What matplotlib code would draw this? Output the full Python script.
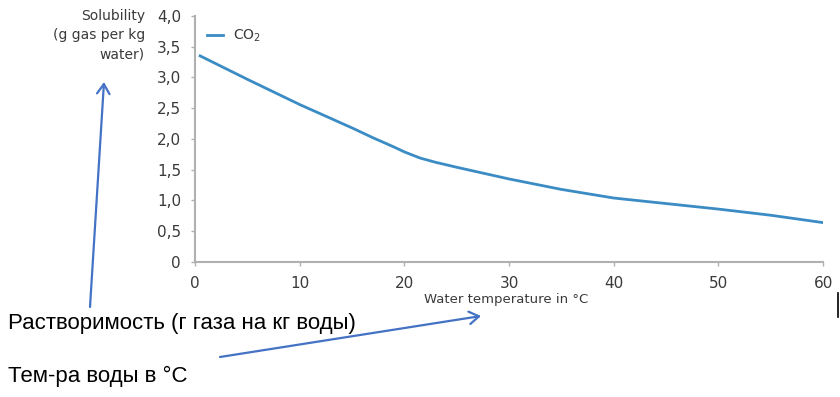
import numpy as np
import matplotlib
matplotlib.use('Agg')
import matplotlib.pyplot as plt
from matplotlib.lines import Line2D
from matplotlib.patches import FancyArrowPatch

# datos
temperatura = [0.5, 5, 10, 15, 17, 19, 20, 21.5, 23, 25, 30, 35, 40, 45, 50, 55, 60]
solubilidad = [3.35, 2.97, 2.56, 2.18, 2.02, 1.87, 1.79, 1.69, 1.62, 1.54, 1.35, 1.18, 1.04, 0.95, 0.86, 0.76, 0.64]

xticks = [0, 10, 20, 30, 40, 50, 60]
yticks = [0, 0.5, 1.0, 1.5, 2.0, 2.5, 3.0, 3.5, 4.0]
ytick_labels = ['0', '0,5', '1,0', '1,5', '2,0', '2,5', '3,0', '3,5', '4,0']

serie = 'CO$_2$'
etiqueta_y = 'Solubility\n(g gas per kg\nwater)'
etiqueta_x = 'Water temperature in °C'
nota_y = 'Растворимость (г газа на кг воды)'
nota_x = 'Тем-ра воды в °C'

fuente = ['DejaVu Sans']
gris = '#3a3a3a'
azul = '#4472C4'

fig = plt.figure(figsize=(8.4, 3.97), dpi=100)
ax = fig.add_axes([0.232, 0.340, 0.748, 0.620])

ax.plot(temperatura, solubilidad, color='#3b8cc4', lw=2, label=serie)

ax.set_xlim(0, 60)
ax.set_ylim(0, 4.0)
ax.set_xticks(xticks)
ax.set_xticklabels([str(t) for t in xticks], family=fuente, fontsize=11, color=gris)
ax.set_yticks(yticks)
ax.set_yticklabels(ytick_labels, family=fuente, fontsize=11, color=gris)
ax.tick_params(axis='both', direction='out', length=3, width=1, color='#b0b0b0', pad=7)

for lado in ['top', 'right']:
    ax.spines[lado].set_visible(False)
for lado in ['left', 'bottom']:
    ax.spines[lado].set_color('#b0b0b0')
    ax.spines[lado].set_linewidth(1.5)

leg = ax.legend(loc='upper left', frameon=False, handlelength=1.2, handletextpad=0.7,
                borderaxespad=0.45, prop={'family': fuente, 'size': 10})
for t in leg.get_texts():
    t.set_color(gris)

fig.text(145 / 840, 1 - 9 / 397, etiqueta_y, ha='right', va='top', family=fuente,
         fontsize=10, color=gris, linespacing=1.5)
fig.text(506 / 840, 1 - 300 / 397, etiqueta_x, ha='center', va='center', family=fuente,
         fontsize=9.5, color=gris)

# notas en ruso
fig.text(8 / 840, 1 - 324 / 397, nota_y, ha='left', va='center',
         family=['Liberation Sans', 'DejaVu Sans'], fontsize=16, color='black')
fig.text(8 / 840, 1 - 376 / 397, nota_x, ha='left', va='center',
         family=['Liberation Sans', 'DejaVu Sans'], fontsize=16, color='black')

# flechas
def px(x, y):
    return (x / 840, 1 - y / 397)

for ini, fin in [((90, 307), (104, 82)), ((220, 357), (481, 316))]:
    flecha = FancyArrowPatch(px(*ini), px(*fin), transform=fig.transFigure,
                             arrowstyle='->,head_length=7,head_width=4.5',
                             color=azul, lw=1.6, shrinkA=0, shrinkB=0)
    fig.add_artist(flecha)

# trazo vertical en el borde derecho
fig.add_artist(Line2D([838 / 840, 838 / 840], [1 - 293 / 397, 1 - 317 / 397],
                      transform=fig.transFigure, color='black', lw=1.2))

fig.savefig('out.png', dpi=100)
